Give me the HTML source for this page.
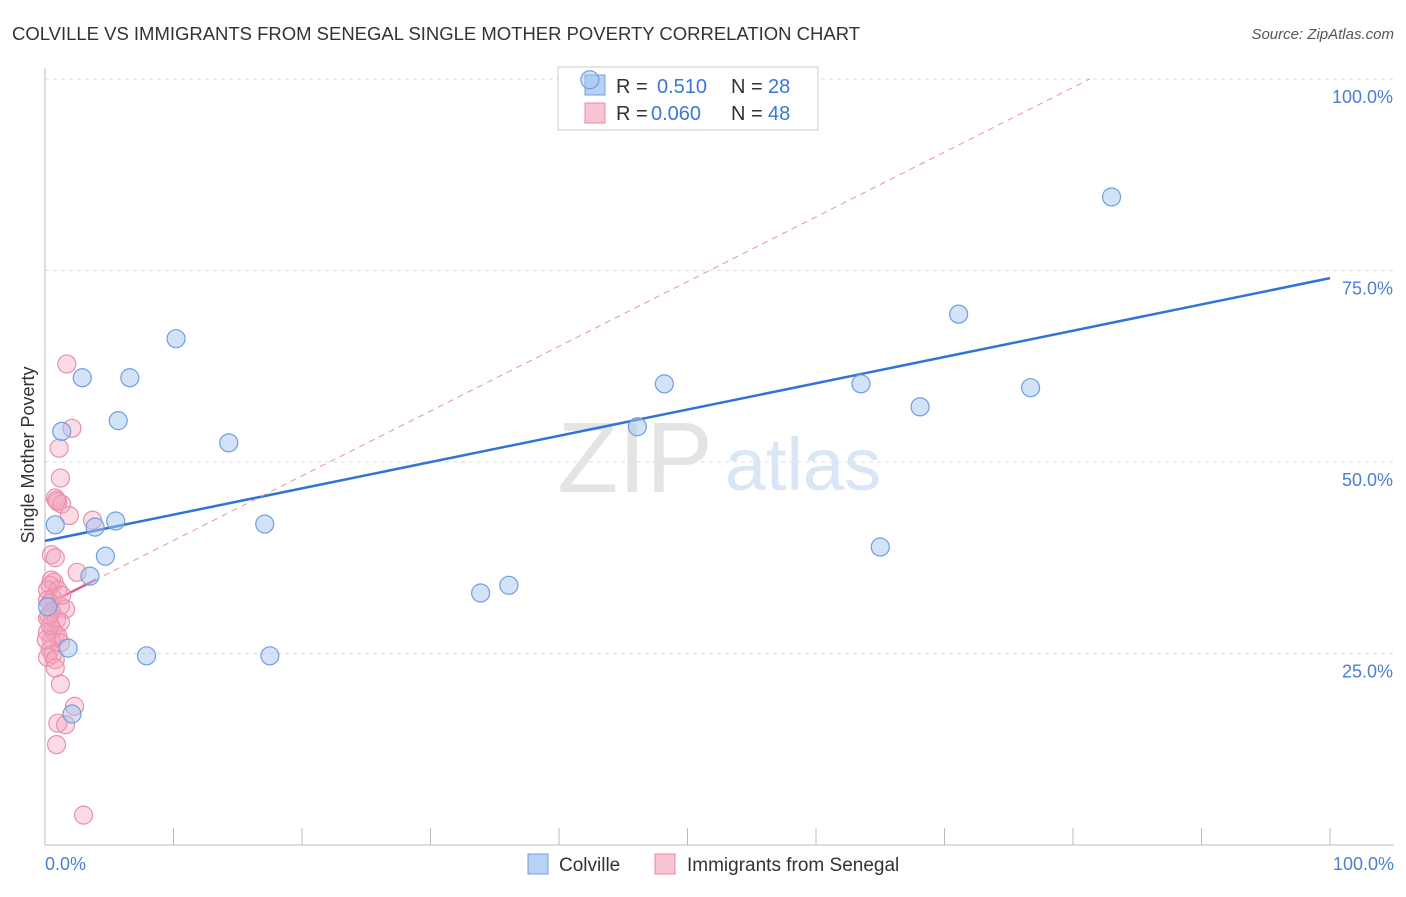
<!DOCTYPE html>
<html><head><meta charset="utf-8"><style>
body{margin:0;background:#fff;font-family:"Liberation Sans",sans-serif;}
svg text{font-family:"Liberation Sans",sans-serif;}
</style></head><body>
<svg id="chart" width="1406" height="892" xmlns="http://www.w3.org/2000/svg">
<text x="12" y="40" font-size="18" fill="#333" textLength="848" lengthAdjust="spacingAndGlyphs">COLVILLE VS IMMIGRANTS FROM SENEGAL SINGLE MOTHER POVERTY CORRELATION CHART</text>
<text x="1394" y="39" font-size="15" fill="#555" font-style="italic" text-anchor="end">Source: ZipAtlas.com</text>
<g id="grid"></g>
<g><text x="635" y="492" font-size="100" fill="#e4e4e4" font-family="Liberation Serif" text-anchor="middle">ZIP</text><text x="803" y="490" font-size="74" fill="#d8e6f6" text-anchor="middle">atlas</text></g>
<g id="axes"></g>
<g>
<rect x="558" y="67" width="260" height="63" fill="#fff" stroke="#ccc"/>
<rect x="585" y="75" width="20" height="20" fill="#b8d2f4" stroke="#6f9fe0"/>
<text x="616" y="93" font-size="20" fill="#333">R = </text><text x="657" y="93" font-size="20" fill="#3a78d8">0.510</text>
<text x="731" y="93" font-size="20" fill="#333">N = </text><text x="768" y="93" font-size="20" fill="#3a78d8">28</text>
<rect x="585" y="103" width="20" height="20" fill="#f8c4d2" stroke="#e888a8"/>
<text x="616" y="120" font-size="20" fill="#333">R = </text><text x="651" y="120" font-size="20" fill="#3a78d8">0.060</text>
<text x="731" y="120" font-size="20" fill="#333">N = </text><text x="768" y="120" font-size="20" fill="#3a78d8">48</text>
</g>
<g id="lines"></g>
<g id="points"></g>
<text transform="translate(34,455) rotate(-90)" font-size="18" fill="#333" text-anchor="middle">Single Mother Poverty</text>
<text x="45" y="870" font-size="18" fill="#4a7fd4">0.0%</text>
<text x="1394" y="870" font-size="18" fill="#4a7fd4" text-anchor="end">100.0%</text>
<g>
<rect x="528" y="854" width="20" height="20" fill="#b8d2f4" stroke="#6f9fe0"/>
<text x="559" y="871" font-size="19" fill="#333">Colville</text>
<rect x="655" y="854" width="20" height="20" fill="#f8c4d2" stroke="#e888a8"/>
<text x="687" y="871" font-size="19" fill="#333">Immigrants from Senegal</text>
</g>
</svg>
<script>
const yTicks=[25,50,75,100];
const yTickLabels=["25.0%","50.0%","75.0%","100.0%"];
const xTicks=[10,20,30,40,50,60,70,80,90,100];
const blueX=[42.4,83.0,71.1,10.2,2.9,6.6,48.2,63.5,76.7,68.1,5.7,1.3,46.1,14.3,0.8,3.9,5.5,17.1,4.7,65.0,3.5,36.1,33.9,1.8,7.9,17.5,2.1,0.2];
const blueY=[99.9,84.6,69.3,66.1,61.0,61.0,60.2,60.2,59.7,57.2,55.4,54.0,54.6,52.5,41.8,41.5,42.3,41.9,37.7,38.9,35.1,33.9,32.9,25.7,24.7,24.7,17.1,31.1];
const pinkX=[1.7,2.1,1.1,1.2,0.8,1.0,1.3,1.9,3.7,0.5,0.8,2.5,0.5,0.7,0.4,1.0,0.2,0.6,0.2,0.4,1.2,1.6,0.5,0.2,0.9,1.2,0.6,0.2,0.8,1.0,0.5,1.2,0.4,0.6,0.2,0.8,0.8,1.2,2.3,1.0,1.6,0.9,3.0,0.1,1.3,0.4,0.9,0.3];
const pinkY=[62.8,54.4,51.8,47.9,45.3,44.8,44.5,43.0,42.4,37.9,37.5,35.6,34.6,34.3,33.9,33.3,33.3,32.2,32.0,31.6,31.2,30.8,30.4,29.6,29.4,29.1,28.1,27.8,27.5,27.3,26.8,26.4,25.5,24.9,24.5,24.2,23.1,21.0,18.1,15.9,15.7,13.1,3.9,26.8,32.6,28.7,45.0,30.0];
const blueFit=[39.7,74.0];
const pinkFit=[31.3,0.845];
const X=v=>45+v*12.85, Y=v=>845-v*7.66;
const NS="http://www.w3.org/2000/svg";
function mk(t,a,p){const e=document.createElementNS(NS,t);for(const k in a)e.setAttribute(k,a[k]);p.appendChild(e);return e;}
const grid=document.getElementById('grid'),axes=document.getElementById('axes'),lines=document.getElementById('lines'),pts=document.getElementById('points');
yTicks.forEach((t,i)=>{
 const l=mk('line',{x1:45,x2:1394,y1:Y(t),y2:Y(t),stroke:'#ddd','stroke-dasharray':'4,4'},grid);
 
 
 const tx=mk('text',{x:1393,y:Y(t)+24,'font-size':18,fill:'#4a7fd4','text-anchor':'end'},axes);
 tx.textContent=yTickLabels[i];
 
 
});
mk('line',{x1:45,x2:45,y1:68,y2:845,stroke:'#bbb'},axes);
mk('line',{x1:45,x2:1394,y1:845,y2:845,stroke:'#bbb'},axes);
xTicks.forEach(t=>{const l=mk('line',{x1:X(t),x2:X(t),y1:828,y2:845,stroke:'#bbb'},axes);
 
 });
const bl=mk('line',{x1:X(0),y1:Y(blueFit[0]),x2:X(100),y2:Y(blueFit[1]),stroke:'#2f74d6','stroke-width':2.5},lines);


const xe=(100-pinkFit[0])/pinkFit[1];
const pd=mk('line',{x1:X(0),y1:Y(pinkFit[0]),x2:X(xe),y2:Y(100),stroke:'#e891ac','stroke-width':1,'stroke-dasharray':'6,5'},lines);


const ps=mk('line',{x1:X(0),y1:Y(pinkFit[0]),x2:X(4),y2:Y(pinkFit[0]+4*pinkFit[1]),stroke:'#e0608a','stroke-width':2.5},lines);


pinkX.forEach((x,i)=>{const c=mk('circle',{cx:X(x),cy:Y(pinkY[i]),r:9,fill:'rgba(245,165,188,0.4)',stroke:'#e890ac','stroke-width':1.2},pts);
 
 });
blueX.forEach((x,i)=>{const c=mk('circle',{cx:X(x),cy:Y(blueY[i]),r:9,fill:'rgba(165,198,240,0.5)',stroke:'#6f9fe0','stroke-width':1.2},pts);
 
 });
</script>
</body></html>
